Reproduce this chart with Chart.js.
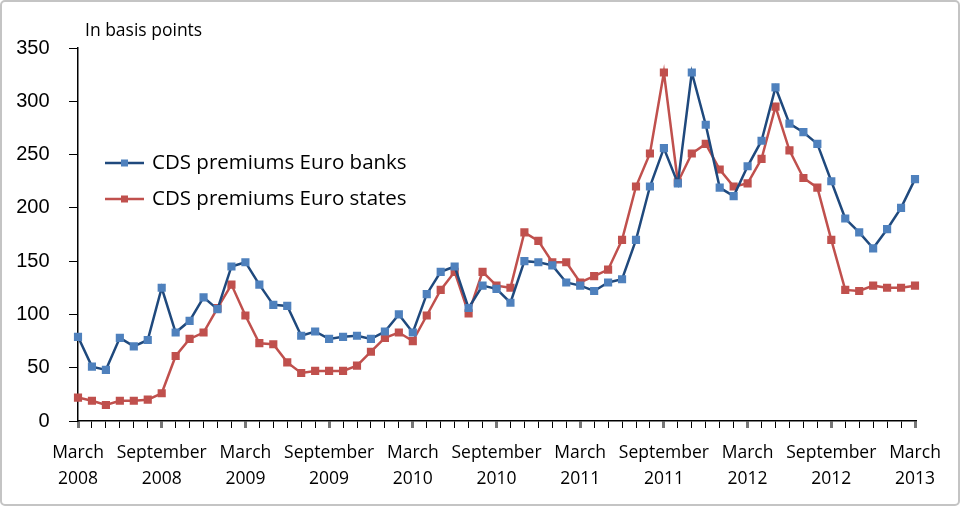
<!DOCTYPE html>
<html><head><meta charset="utf-8">
<script src="https://cdn.jsdelivr.net/npm/chart.js@4"></script>
<style>html,body{margin:0;padding:0;background:#fff}#wrap{width:960px;height:506px;position:relative}</style>
</head><body><div id="wrap"><canvas id="c" width="960" height="506"></canvas></div>
<script>
const months = ['March','April','May','June','July','August','September','October','November','December','January','February'];
const startYear = 2008;
const categories = [];
for (let i = 0; i < 61; i++) { const m = months[i % 12]; const y = startYear + Math.floor((i + 2) / 12); categories.push(m + ' ' + y); }
const tickLabels = ['March 2008','September 2008','March 2009','September 2009','March 2010','September 2010','March 2011','September 2011','March 2012','September 2012','March 2013'];
const banks = [79,51,48,78,70,76,125,83,94,116,105,145,149,128,109,108,80,84,77,79,80,77,84,100,83,119,140,145,106,127,124,111,150,149,146,130,127,122,130,133,170,220,256,223,327,278,219,211,239,263,313,279,271,260,225,190,177,162,180,200,227];
const states = [22,19,15,19,19,20,26,61,77,83,106,128,99,73,72,55,45,47,47,47,52,65,78,83,75,99,123,140,101,140,127,125,177,169,149,149,130,136,142,170,220,251,327,224,251,260,236,220,223,246,295,254,228,219,170,123,122,127,125,125,127];
const seriesNames = ['CDS premiums Euro banks','CDS premiums Euro states'];
const unitLabel = 'In basis points';

const deco = {
  id: 'deco',
  afterDraw(chart) {
    const ctx = chart.ctx;
    ctx.save();
    ctx.strokeStyle = '#c4c4c4'; ctx.lineWidth = 2;
    ctx.beginPath(); ctx.roundRect(1, 1, 958, 504, 4); ctx.stroke();
    ctx.fillStyle = '#000'; ctx.font = '17.5px "Open Sans"'; ctx.textBaseline = 'middle'; ctx.textAlign = 'left';
    ctx.fillText(unitLabel, 85, 31);
    const items = [{y:163, line:'#1F497D', pt:'#4F81BD', t:seriesNames[0]}, {y:199, line:'#C0504D', pt:'#C0504D', t:seriesNames[1]}];
    ctx.font = '20.5px "Open Sans"';
    for (const it of items) {
      ctx.strokeStyle = it.line; ctx.lineWidth = 2.5;
      ctx.beginPath(); ctx.moveTo(105, it.y); ctx.lineTo(144, it.y); ctx.stroke();
      ctx.fillStyle = it.pt; ctx.fillRect(121, it.y - 3.5, 7, 7);
      ctx.fillStyle = '#000'; ctx.fillText(it.t, 152, it.y);
    }
    ctx.restore();
  }
};

new Chart(document.getElementById('c'), {
  type: 'line',
  data: {
    labels: categories,
    datasets: [
      { label: seriesNames[0], data: banks, borderColor: '#1F497D', backgroundColor: '#4F81BD', pointBackgroundColor: '#4F81BD', pointBorderColor: '#4F81BD', borderWidth: 2.5, pointStyle: 'rect', pointRadius: 4, tension: 0 },
      { label: seriesNames[1], data: states, borderColor: '#C0504D', backgroundColor: '#C0504D', pointBackgroundColor: '#C0504D', pointBorderColor: '#C0504D', borderWidth: 2.5, pointStyle: 'rect', pointRadius: 4, tension: 0 }
    ]
  },
  options: {
    responsive: false, animation: false, devicePixelRatio: 1,
    layout: { padding: { top: 48, right: 45, left: 0, bottom: 0 } },
    plugins: { legend: { display: false }, tooltip: { enabled: false } },
    scales: {
      x: {
        offset: false,
        afterFit(s) { s.height = 85; },
        border: { color: '#000', width: 1.5 },
        grid: { drawOnChartArea: false, drawTicks: true, tickLength: 7,
          color: c => (c.index % 6 === 0 ? '#777' : '#000'),
          lineWidth: c => (c.index % 6 === 0 ? 3 : 1) },
        ticks: { autoSkip: false, maxRotation: 0, minRotation: 0, color: '#000', padding: 12,
          font: { family: 'Open Sans', size: 17.5, lineHeight: 1.48 },
          callback(v, i) { if (i % 6 !== 0) return ''; return tickLabels[i / 6].split(' '); } }
      },
      y: {
        min: 0, max: 350,
        afterFit(s) { s.width = 78; },
        border: { color: '#000', width: 1.5 },
        grid: { drawOnChartArea: false, drawTicks: true, tickLength: 9, color: '#000' },
        ticks: { stepSize: 50, color: '#000', padding: 19.5, font: { family: 'Liberation Sans', size: 20 } }
      }
    }
  },
  plugins: [deco]
});
</script></body></html>
